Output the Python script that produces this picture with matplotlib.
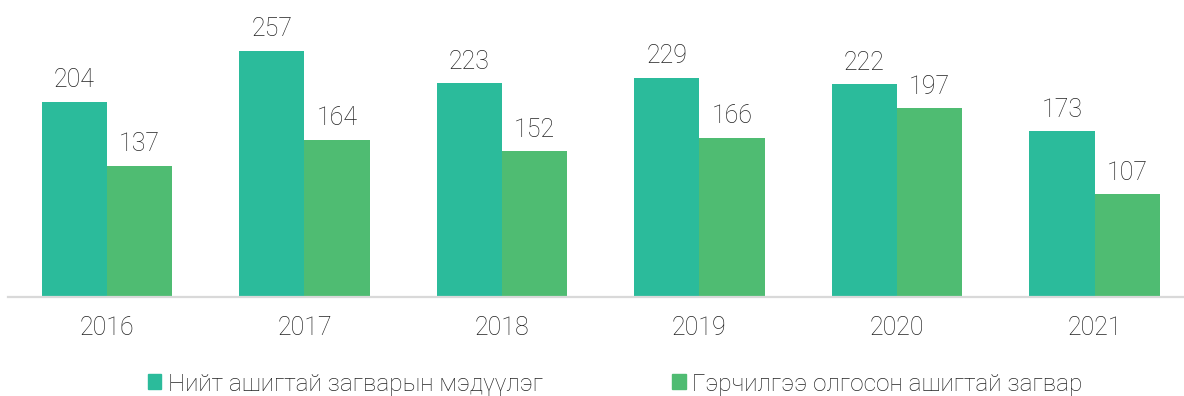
import numpy as np
import matplotlib.pyplot as plt
from matplotlib.patches import Patch

years = ['2016', '2017', '2018', '2019', '2020', '2021']
total_apps = [204, 257, 223, 229, 222, 173]
granted = [137, 164, 152, 166, 197, 107]
series_names = ['Нийт ашигтай загварын мэдүүлэг', 'Гэрчилгээ олгосон ашигтай загвар']

teal = '#2bbb9b'
green = '#4fbc72'
plt.rcParams['font.family'] = ['Roboto', 'DejaVu Sans']
fs = 18

fig = plt.figure(figsize=(11.84, 3.96), dpi=100)
ax = fig.add_axes([8 / 1184, 1 - 297 / 396, 1176 / 1184, 297 / 396])

x = np.arange(len(years))
w = 0.33
b1 = ax.bar(x - w / 2, total_apps, w, color=teal, zorder=2)
b2 = ax.bar(x + w / 2, granted, w, color=green, zorder=2)

for bars, vals in ((b1, total_apps), (b2, granted)):
    for rect, v in zip(bars, vals):
        ax.annotate(str(v), (rect.get_x() + rect.get_width() / 2, v),
                    xytext=(0, 7), textcoords='offset points',
                    ha='center', va='bottom', fontsize=fs,
                    fontweight='light', color='#222222')

ax.set_xlim(-0.501, 5.453)
ax.set_ylim(0, 310)
ax.set_xticks(x)
ax.set_xticklabels(years, fontsize=fs, fontweight='light', color='#222222')
ax.tick_params(axis='x', length=0, pad=14)
ax.set_yticks([])
for s in ['top', 'right', 'left']:
    ax.spines[s].set_visible(False)
ax.spines['bottom'].set_color('#d9d9d9')
ax.spines['bottom'].set_linewidth(1.6)

handles = [Patch(color=teal), Patch(color=green)]
fig.legend(handles, series_names, loc='center', bbox_to_anchor=(615 / 1184, 1 - 384 / 396),
           ncol=2, frameon=False,
           prop={'weight': 'light', 'size': 17.6},
           handlelength=0.55, handleheight=0.55, handletextpad=0.25,
           columnspacing=5.3, labelcolor='#222222')

fig.savefig('out.png', dpi=100)
